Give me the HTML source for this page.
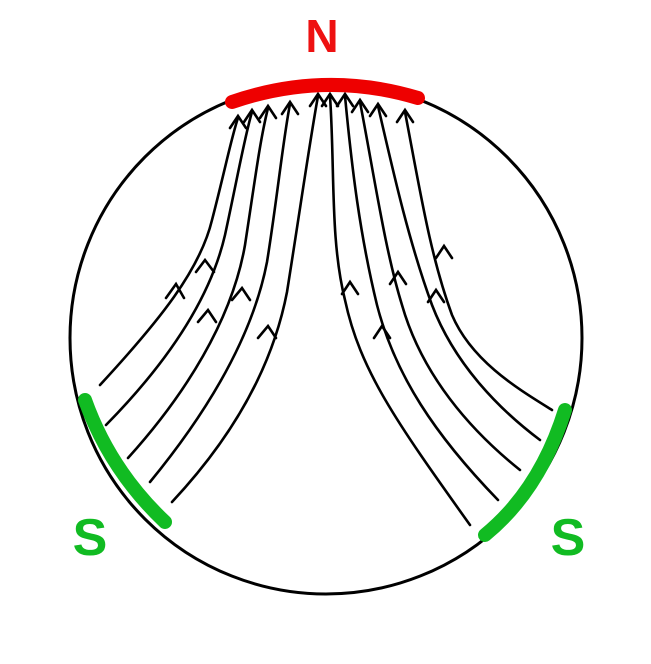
<!DOCTYPE html>
<html><head><meta charset="utf-8"><style>html,body{margin:0;padding:0;background:#fff}</style></head>
<body>
<svg width="651" height="659" viewBox="0 0 651 659" xmlns="http://www.w3.org/2000/svg">
<circle cx="326" cy="338" r="256" fill="none" stroke="#000" stroke-width="3"/>
<g fill="none" stroke="#000" stroke-width="2.6" stroke-linecap="round">
<path d="M100 385 C160 320 200 270 212 220 C225 170 232 135 238 118"/>
<path d="M106 425 C165 365 210 300 225 235 C238 175 245 135 252 112"/>
<path d="M128 458 C185 395 232 320 245 245 C255 180 260 140 268 108"/>
<path d="M150 482 C205 415 252 340 267 262 C277 200 283 140 290 104"/>
<path d="M172 502 C230 440 272 370 287 292 C300 210 310 140 318 96"/>
<path d="M330 96 C335 170 330 240 345 300 C360 370 395 420 470 525"/>
<path d="M345 96 C352 170 360 235 377 305 C395 375 435 435 498 500"/>
<path d="M360 102 C375 180 385 250 402 305 C422 375 470 430 520 470"/>
<path d="M378 106 C395 180 410 245 432 305 C455 365 500 410 540 440"/>
<path d="M405 112 C420 190 430 255 452 315 C472 362 520 390 552 410"/>
<path d="M230 128 L238 116 L246 128"/>
<path d="M244 122 L252 110 L260 122"/>
<path d="M260 118 L268 106 L276 118"/>
<path d="M282 114 L290 102 L298 114"/>
<path d="M310 106 L318 94 L326 106"/>
<path d="M322 106 L330 94 L338 106"/>
<path d="M337 106 L345 94 L353 106"/>
<path d="M352 112 L360 100 L368 112"/>
<path d="M370 116 L378 104 L386 116"/>
<path d="M397 122 L405 110 L413 122"/>
<path d="M166 298 L176 284 L184 298"/>
<path d="M196 272 L205 260 L214 272"/>
<path d="M198 322 L208 310 L216 322"/>
<path d="M232 300 L242 288 L250 300"/>
<path d="M258 338 L268 326 L276 338"/>
<path d="M342 294 L350 282 L358 294"/>
<path d="M374 338 L382 326 L390 338"/>
<path d="M390 284 L398 272 L406 284"/>
<path d="M428 302 L436 290 L444 302"/>
<path d="M436 258 L444 246 L452 258"/>
</g>
<path d="M232 102 Q325 70 418 98" fill="none" stroke="#ee0000" stroke-width="14" stroke-linecap="round"/>
<path d="M85 400 Q110 470 165 522" fill="none" stroke="#11bb22" stroke-width="14" stroke-linecap="round"/>
<path d="M565 410 Q540 490 485 535" fill="none" stroke="#11bb22" stroke-width="14" stroke-linecap="round"/>
<text x="322" y="52" font-family="Liberation Sans, sans-serif" font-weight="bold" font-size="46" fill="#ee1111" text-anchor="middle">N</text>
<text x="90" y="555" font-family="Liberation Sans, sans-serif" font-weight="bold" font-size="52" fill="#11bb22" text-anchor="middle">S</text>
<text x="568" y="555" font-family="Liberation Sans, sans-serif" font-weight="bold" font-size="52" fill="#11bb22" text-anchor="middle">S</text>
</svg>
</body></html>
